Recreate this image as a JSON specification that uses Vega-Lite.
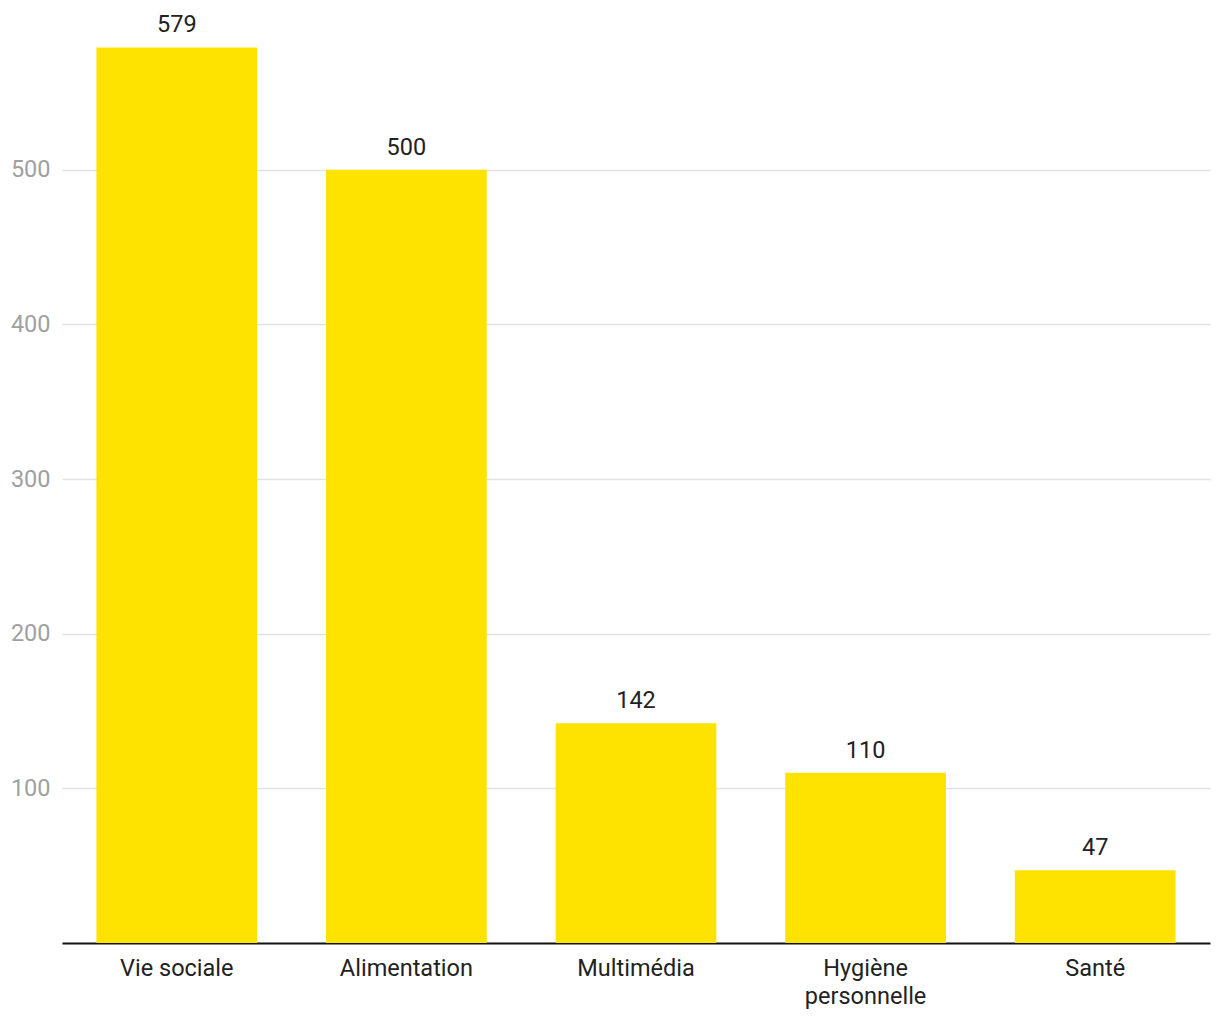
{
  "$schema": "https://vega.github.io/schema/vega-lite/v6.json",
  "autosize": "none",
  "width": 1148,
  "height": 928,
  "padding": {"left": 62, "top": 15, "right": 10, "bottom": 77},
  "background": "white",
  "config": {"view": {"stroke": null}, "font": "Roboto"},
  "data": {"values": [
    {"categorie": "Vie sociale", "valeur": 579},
    {"categorie": "Alimentation", "valeur": 500},
    {"categorie": "Multimédia", "valeur": 142},
    {"categorie": "Hygiène personnelle", "valeur": 110},
    {"categorie": "Santé", "valeur": 47}
  ]},
  "encoding": {
    "x": {"field": "categorie", "type": "nominal", "sort": null,
      "scale": {"paddingInner": 0.3, "paddingOuter": 0.15},
      "axis": {"title": null, "labelAngle": 0, "labelFont": "Roboto", "labelFontSize": 23.5, "labelColor": "#222222",
        "labelPadding": 13, "ticks": false, "domainColor": "#111111", "domainWidth": 2, "labelLineHeight": 28,
        "labelExpr": "datum.label == 'Hygiène personnelle' ? ['Hygiène', 'personnelle'] : datum.label"}},
    "y": {"field": "valeur", "type": "quantitative",
      "scale": {"domain": [0, 600], "nice": false},
      "axis": {"title": null, "values": [100, 200, 300, 400, 500], "domain": false, "ticks": false,
        "labelFont": "Roboto", "labelFontSize": 23.5, "labelColor": "#a0a0a0", "labelPadding": 12,
        "gridColor": "#e2e2e2", "gridWidth": 1.5}}
  },
  "layer": [
    {"mark": {"type": "bar", "color": "#FEE300"}},
    {"mark": {"type": "text", "dy": -15, "baseline": "alphabetic", "font": "Roboto", "fontSize": 23.5, "color": "#222222"},
      "encoding": {"text": {"field": "valeur", "type": "quantitative"}}}
  ]
}
